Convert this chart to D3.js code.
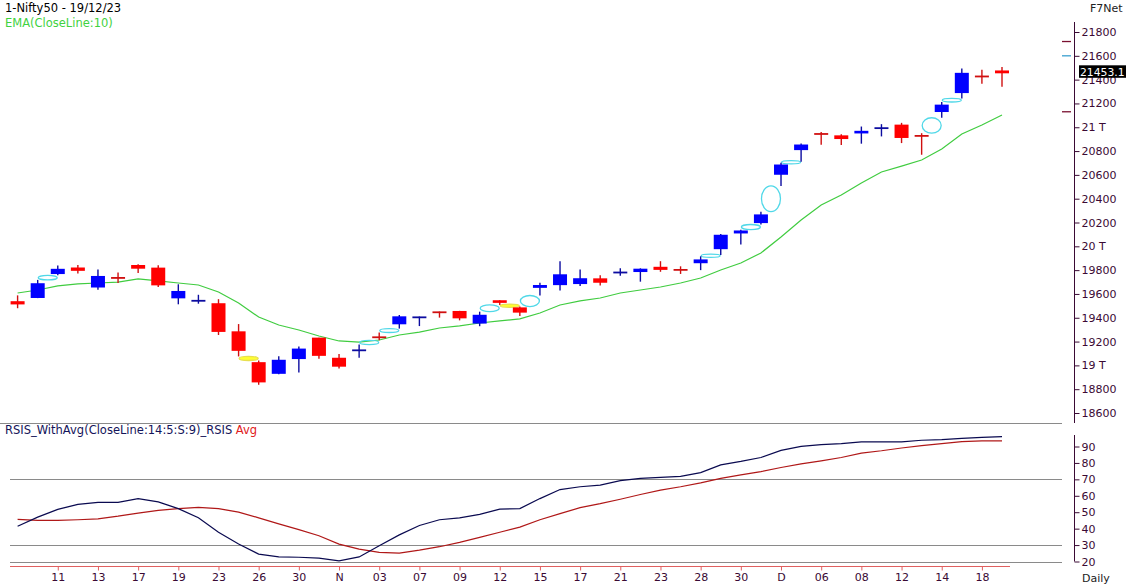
<!DOCTYPE html>
<html><head><meta charset="utf-8">
<script src="https://cdn.jsdelivr.net/npm/d3@7"></script>
<style>
body{margin:0;background:#fff;}
svg{display:block;font-family:"DejaVu Sans",Verdana,sans-serif;}
</style></head><body>
<svg id="c" width="1126" height="587"></svg>
<script>
// ---------- DATA ----------
const dates = ["2023-10-09","2023-10-10","2023-10-11","2023-10-12","2023-10-13","2023-10-16","2023-10-17","2023-10-18","2023-10-19","2023-10-20",
"2023-10-23","2023-10-25","2023-10-26","2023-10-27","2023-10-30","2023-10-31","2023-11-01","2023-11-02","2023-11-03","2023-11-06",
"2023-11-07","2023-11-08","2023-11-09","2023-11-10","2023-11-12","2023-11-13","2023-11-15","2023-11-16","2023-11-17","2023-11-20",
"2023-11-21","2023-11-22","2023-11-23","2023-11-24","2023-11-28","2023-11-29","2023-11-30","2023-12-01","2023-12-04","2023-12-05",
"2023-12-06","2023-12-07","2023-12-08","2023-12-11","2023-12-12","2023-12-13","2023-12-14","2023-12-15","2023-12-18","2023-12-19"];
const open  = [19539,19566,19767,19822,19654,19737,19843,19821,19563,19542,19522,19286,19027,18929,19053,19233,19064,19120,19241,19345,
19400,19449,19457,19351,19547,19487,19651,19674,19683,19731,19776,19784,19828,19809,19858,19976,20108,20195,20601,20808,
20950,20932,20948,20985,21022,20929,21128,21287,21434,21477];
const high  = [19588,19718,19839,19843,19805,19781,19849,19840,19681,19593,19556,19347,19041,19076,19158,19233,19096,19175,19276,19423,
19410,19452,19458,19451,19547,19494,19693,19875,19806,19756,19815,19815,19875,19832,19916,20104,20140,20291,20702,20864,
20961,20941,21006,21026,21037,20950,21212,21493,21482,21505];
const low   = [19480,19565,19756,19772,19635,19691,19775,19659,19513,19518,19255,19075,18837,18926,18940,19056,18973,19064,19210,19309,
19330,19401,19378,19329,19508,19414,19587,19628,19667,19670,19752,19703,19786,19768,19800,19926,20015,20183,20507,20711,
20852,20850,20862,20923,20867,20769,21080,21242,21366,21340];
const close = [19512,19690,19811,19794,19751,19732,19812,19672,19625,19543,19281,19122,18857,19047,19141,19080,18989,19133,19231,19412,
19407,19443,19395,19425,19525,19443,19675,19765,19732,19694,19784,19812,19802,19795,19890,20097,20133,20268,20687,20855,
20937,20901,20970,21000,20910,20926,21190,21457,21419,21453.1];
const ema10 = [19608,19633,19667,19684,19692,19700,19726,19709,19692,19675,19616,19524,19406,19339,19297,19247,19205,19196,19213,19255,
19280,19314,19331,19356,19373,19390,19440,19507,19541,19566,19608,19633,19658,19692,19734,19801,19860,19944,20078,20221,
20347,20431,20532,20624,20674,20725,20817,20943,21019,21103];
const rsi = [41.5,47,51.7,54.8,56,56,58.3,56.3,52.2,46.6,37.8,30.6,24.5,22.8,22.6,22,20.4,22.8,29.6,36.2,
41.9,45.4,46.6,48.7,51.9,52.2,58.3,63.8,65.5,66.5,69.2,70.6,71.2,71.8,74.1,78.8,80.9,83.3,87.6,90.1,
91.1,91.7,92.8,92.8,92.8,93.8,94.2,95,95.6,96];
const rsiAvg = [45.6,45,45,45.4,46,47.6,49.5,51.1,52.2,53,52.2,50.1,46.6,42.9,39.4,35.7,30.6,27.5,25.5,25.1,
26.9,29,31.6,34.7,37.8,40.9,45.4,49.1,52.8,55.2,57.9,60.8,63.4,65.5,67.9,70.6,72.7,74.7,77.2,79.4,
81.3,83.3,86,87.4,89.1,90.5,91.7,93,93.4,93.4];
const priceTicks = [18600,18800,19000,19200,19400,19600,19800,20000,20200,20400,20600,20800,21000,21200,21400,21600,21800];
const priceTickLabels = ["18600","18800","19 T","19200","19400","19600","19800","20 T","20200","20400","20600","20800","21 T","21200","21400","21600","21800"];
const rsiTicks = [20,30,40,50,60,70,80,90];
const rsiLevels = [70,30,20];
const xTickDates = ["2023-10-11","2023-10-13","2023-10-17","2023-10-19","2023-10-23","2023-10-26","2023-10-30","2023-11-01","2023-11-03","2023-11-07",
"2023-11-09","2023-11-12","2023-11-15","2023-11-17","2023-11-21","2023-11-23","2023-11-28","2023-11-30","2023-12-04","2023-12-06",
"2023-12-08","2023-12-12","2023-12-14","2023-12-18"];
const xTickLabels = ["11","13","17","19","23","26","30","N","03","07","09","12","15","17","21","23","28","30","D","06","08","12","14","18"];
const markerLevels = [21720,21600,21130];
const markerColors = ["#7a1030","#3aa0d0","#7a1030"];

// ---------- SCALES ----------
const svg = d3.select("#c");
const x = d3.scalePoint().domain(dates).range([17.6, 1002]);
const y = d3.scaleLinear().domain([18600,21800]).range([413,32]);
const yr = d3.scaleLinear().domain([20,90]).range([561.5,446.5]);
const axisCol = "#3a0a34";
const bw = 14;

// ---------- TEXTS ----------
svg.append("text").attr("x",5).attr("y",12).attr("font-size",11.5).attr("fill","#000").text("1-Nifty50 - 19/12/23");
svg.append("text").attr("x",5).attr("y",27).attr("font-size",11.5).attr("fill","#3fd23f").text("EMA(CloseLine:10)");
svg.append("text").attr("x",1090).attr("y",12).attr("font-size",11).attr("fill","#222").text("F7Net");
const lt = svg.append("text").attr("x",5).attr("y",434).attr("font-size",11.5);
lt.append("tspan").attr("fill","#14145a").text("RSIS_WithAvg(CloseLine:14:5:S:9)_RSIS ");
lt.append("tspan").attr("fill","#e02020").text("Avg");
svg.append("text").attr("x",1082).attr("y",582).attr("font-size",11).attr("fill","#222").text("Daily");

// separator
svg.append("line").attr("x1",0).attr("x2",1062).attr("y1",423.5).attr("y2",423.5).attr("stroke","#8a8a8a");

// ---------- PRICE AXIS ----------
const pa = svg.append("g").attr("transform","translate(1074.5,0)")
  .call(d3.axisRight(y).tickValues(priceTicks).tickFormat((d,i)=>priceTickLabels[i]).tickSize(5).tickPadding(2));
pa.select(".domain").remove();
pa.selectAll("line").attr("stroke",axisCol);
pa.selectAll("text").attr("fill",axisCol).attr("font-size",11).attr("font-family","DejaVu Sans, sans-serif");
svg.append("line").attr("x1",1074.5).attr("x2",1074.5).attr("y1",22).attr("y2",423).attr("stroke",axisCol);

// markers on right
svg.selectAll(".mk").data(markerLevels).enter().append("line")
  .attr("x1",1062).attr("x2",1071).attr("y1",d=>y(d)).attr("y2",d=>y(d))
  .attr("stroke",(d,i)=>markerColors[i]).attr("stroke-width",1.3);

// ---------- EMA ----------
svg.append("path").datum(ema10)
  .attr("d", d3.line().x((d,i)=>x(dates[i])).y(d=>y(d)))
  .attr("fill","none").attr("stroke","#40cc40").attr("stroke-width",1.2);

// ---------- GAPS ----------
const gaps=[];
for(let i=1;i<dates.length;i++){
  if(low[i]>high[i-1]) gaps.push({i,a:high[i-1],b:low[i],up:true});
  else if(high[i]<low[i-1]) gaps.push({i,a:high[i],b:low[i-1],up:false});
}
svg.selectAll(".gap").data(gaps).enter().append("ellipse")
  .attr("cx",g=>(x(dates[g.i-1])+x(dates[g.i]))/2)
  .attr("cy",g=>(y(g.a)+y(g.b))/2)
  .attr("rx",9.5)
  .attr("ry",g=>Math.max(Math.abs(y(g.a)-y(g.b))/2,1.6))
  .attr("fill",g=>g.up?"none":"#ffff30")
  .attr("stroke",g=>g.up?"#50d8e8":"#e8e050")
  .attr("stroke-width",1.3);

// ---------- CANDLES ----------
const cd = dates.map((d,i)=>({d,o:open[i],h:high[i],l:low[i],c:close[i]}));
const cg = svg.selectAll(".cd").data(cd).enter().append("g");
cg.append("line")
  .attr("x1",d=>x(d.d)).attr("x2",d=>x(d.d))
  .attr("y1",d=>y(d.h)).attr("y2",d=>y(d.l))
  .attr("stroke",d=>d.c>=d.o?"#0c0ca0":"#d01010").attr("stroke-width",1.4);
cg.each(function(d){
  const g=d3.select(this);
  const y1=y(Math.max(d.o,d.c)), y2=y(Math.min(d.o,d.c));
  const up=d.c>=d.o;
  if(y2-y1<1.8){
    g.append("line").attr("x1",x(d.d)-bw/2).attr("x2",x(d.d)+bw/2)
     .attr("y1",(y1+y2)/2).attr("y2",(y1+y2)/2)
     .attr("stroke",up?"#0c0ca0":"#d01010").attr("stroke-width",1.8);
  } else {
    g.append("rect").attr("x",x(d.d)-bw/2).attr("width",bw)
     .attr("y",y1).attr("height",y2-y1)
     .attr("fill",up?"#0000ff":"#ff0000");
  }
});

// last price box
const lastC = close[close.length-1];
svg.append("rect").attr("x",1079).attr("y",y(lastC)-8).attr("width",50).attr("height",12.5).attr("fill","#000");
svg.append("text").attr("x",1080).attr("y",y(lastC)+2.6).attr("font-size",10.8).attr("fill","#fff").text(lastC.toFixed(1));

// ---------- RSI PANEL ----------
svg.selectAll(".lvl").data(rsiLevels).enter().append("line")
  .attr("x1",10).attr("x2",1062).attr("y1",d=>Math.round(yr(d))+0.5).attr("y2",d=>Math.round(yr(d))+0.5)
  .attr("stroke","#8a8a8a");
const ra = svg.append("g").attr("transform","translate(1074.5,0)")
  .call(d3.axisRight(yr).tickValues(rsiTicks).tickSize(5).tickPadding(2));
ra.select(".domain").remove();
ra.selectAll("line").attr("stroke",axisCol);
ra.selectAll("text").attr("fill",axisCol).attr("font-size",11).attr("font-family","DejaVu Sans, sans-serif");
svg.append("line").attr("x1",1074.5).attr("x2",1074.5).attr("y1",435).attr("y2",yr(20)).attr("stroke",axisCol);

const rl = d3.line().x((d,i)=>x(dates[i])).y(d=>yr(d));
svg.append("path").datum(rsiAvg).attr("d",rl).attr("fill","none").attr("stroke","#b01818").attr("stroke-width",1.2);
svg.append("path").datum(rsi).attr("d",rl).attr("fill","none").attr("stroke","#0a0a50").attr("stroke-width",1.2);

// ---------- X AXIS ----------
const xa = svg.append("g").attr("transform","translate(0,566.5)")
  .call(d3.axisBottom(x).tickValues(xTickDates).tickFormat((d,i)=>xTickLabels[i]).tickSize(4).tickPadding(3));
xa.select(".domain").remove();
xa.selectAll("line").attr("stroke","#e06060");
xa.selectAll("text").attr("fill",axisCol).attr("font-size",11).attr("font-family","DejaVu Sans, sans-serif");
svg.append("line").attr("x1",10).attr("x2",1010).attr("y1",566.5).attr("y2",566.5).attr("stroke","#e06060");
</script>
</body></html>
